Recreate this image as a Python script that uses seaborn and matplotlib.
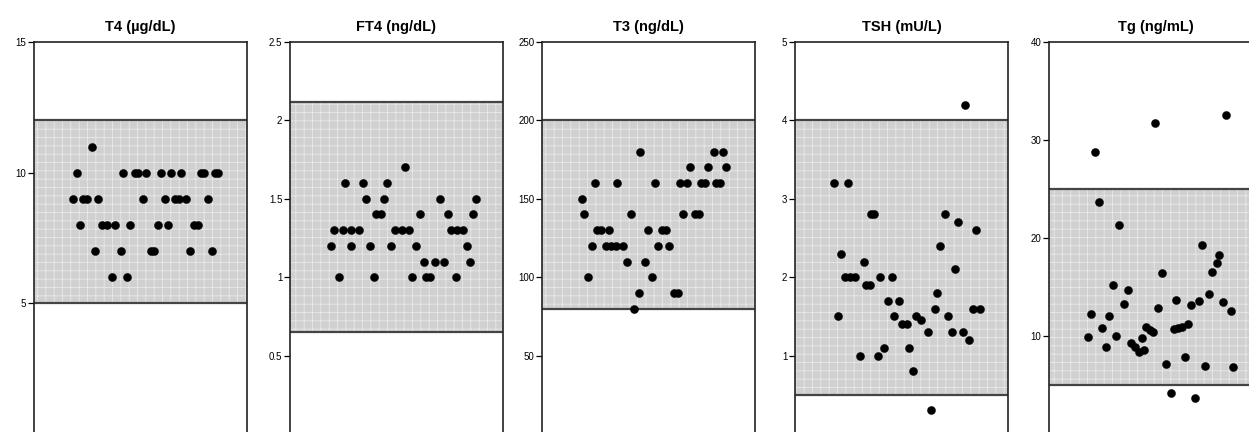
import matplotlib
matplotlib.use("Agg")
import matplotlib.pyplot as plt
import seaborn as sns
import pandas as pd

# ---------------- data (x = position across panel, 0-100) ----------------
panel_titles = ["T4 (µg/dL)", "FT4 (ng/dL)", "T3 (ng/dL)", "TSH (mU/L)", "Tg (ng/mL)"]

t4_x = [27.0,
        20.0, 41.6, 47.2, 48.6, 52.8, 59.8, 64.5, 69.2, 78.5, 79.9, 85.0, 86.4,
        18.2, 22.9, 24.8, 29.9, 51.4, 61.7, 66.4, 68.2, 71.5, 81.8,
        21.5, 31.8, 34.1, 37.9, 44.9, 58.4, 63.1, 75.2, 77.1,
        28.5, 40.7, 55.1, 56.5, 73.4, 83.6,
        36.4, 43.5]
t4_y = [11,
        10, 10, 10, 10, 10, 10, 10, 10, 10, 10, 10, 10,
        9, 9, 9, 9, 9, 9, 9, 9, 9, 9,
        8, 8, 8, 8, 8, 8, 8, 8, 8,
        7, 7, 7, 7, 7, 7,
        6, 6]

ft4_x = [54.2,
         25.9, 34.1, 45.6,
         35.7, 44.2, 70.4, 87.4,
         40.6, 42.5, 61.0, 74.2, 85.7,
         20.8, 24.7, 28.6, 32.5, 49.5, 52.7, 55.8, 75.8, 78.6, 81.0,
         19.2, 28.8, 37.4, 47.6, 59.3, 82.9,
         62.9, 67.9, 72.3, 84.6,
         22.8, 39.6, 57.4, 63.7, 65.7, 77.8]
ft4_y = [1.7,
         1.6, 1.6, 1.6,
         1.5, 1.5, 1.5, 1.5,
         1.4, 1.4, 1.4, 1.4, 1.4,
         1.3, 1.3, 1.3, 1.3, 1.3, 1.3, 1.3, 1.3, 1.3, 1.3,
         1.2, 1.2, 1.2, 1.2, 1.2, 1.2,
         1.1, 1.1, 1.1, 1.1,
         1.0, 1.0, 1.0, 1.0, 1.0, 1.0]

t3_x = [46.1, 80.6, 85.0,
        69.5, 77.9, 86.6,
        25.0, 35.1, 53.1, 64.8, 67.9, 74.6, 76.6, 81.8, 83.4,
        18.6,
        19.6, 41.7, 66.4, 71.6, 73.5,
        25.9, 27.5, 31.4, 49.6, 56.4, 58.0,
        23.5, 29.9, 32.2, 34.6, 37.9, 54.5, 59.7,
        40.0, 48.2,
        21.8, 51.8,
        45.4, 62.1, 63.7,
        43.4]
t3_y = [180, 180, 180,
        170, 170, 170,
        160, 160, 160, 160, 160, 160, 160, 160, 160,
        150,
        140, 140, 140, 140, 140,
        130, 130, 130, 130, 130, 130,
        120, 120, 120, 120, 120, 120, 120,
        110, 110,
        100, 100,
        90, 90, 90,
        80]

tsh_x = [79.7, 18.1, 24.8, 35.8, 36.9, 70.3, 76.7, 85.2, 68.1, 21.7, 32.2, 75.1,
         23.6, 25.9, 28.3, 40.1, 45.6, 33.5, 35.4, 66.8, 43.5, 48.7,
         65.6, 83.8, 86.7, 20.1, 46.7, 56.9, 72.0, 50.3, 52.7, 59.0,
         62.6, 73.6, 79.1, 81.8, 41.7, 53.5, 30.7, 39.0, 55.5, 63.7]
tsh_y = [4.2, 3.2, 3.2, 2.8, 2.8, 2.8, 2.7, 2.6, 2.4, 2.3, 2.2, 2.1,
         2.0, 2.0, 2.0, 2.0, 2.0, 1.9, 1.9, 1.8, 1.7, 1.7,
         1.6, 1.6, 1.6, 1.5, 1.5, 1.5, 1.5, 1.4, 1.4, 1.45,
         1.3, 1.3, 1.3, 1.2, 1.1, 1.1, 1.0, 1.0, 0.8, 0.3]

tg_x = [83.3, 49.8, 21.7, 23.3, 33.0, 71.8, 79.9, 79.1, 76.7, 53.2, 29.9, 36.9,
        75.1, 59.8, 70.4, 66.8, 81.8, 35.1, 51.4, 85.4, 19.7, 28.3, 24.7,
        45.6, 47.2, 48.7, 58.5, 60.5, 62.6, 65.2, 18.4, 31.4, 43.7,
        38.5, 40.6, 42.1, 44.8, 26.7, 63.7, 55.0, 73.1, 86.5, 57.1, 68.4]
tg_y = [32.6, 31.7, 28.8, 23.7, 21.3, 19.3, 18.3, 17.4, 16.5, 16.4, 15.2, 14.7,
        14.3, 13.7, 13.6, 13.2, 13.5, 13.3, 12.9, 12.6, 12.2, 12.0, 10.8,
        10.9, 10.6, 10.4, 10.7, 10.8, 10.95, 11.2, 9.9, 10.0, 9.8,
        9.3, 8.9, 8.4, 8.6, 8.9, 7.9, 7.1, 6.9, 6.8, 4.2, 3.7]

ref_low = [5, 0.65, 80, 0.5, 5]
ref_high = [12, 2.12, 200, 4, 25]
y_max = [15, 2.5, 250, 5, 40]
y_ticks = [[5, 10, 15], [0.5, 1, 1.5, 2, 2.5], [50, 100, 150, 200, 250],
           [1, 2, 3, 4, 5], [10, 20, 30, 40]]
y_ticklabels = [["5", "10", "15"], ["0.5", "1", "1.5", "2", "2.5"],
                ["50", "100", "150", "200", "250"], ["1", "2", "3", "4", "5"],
                ["10", "20", "30", "40"]]

series = [(t4_x, t4_y), (ft4_x, ft4_y), (t3_x, t3_y), (tsh_x, tsh_y), (tg_x, tg_y)]

# ---------------- figure ----------------
sns.set_style("white")
plt.rcParams["font.family"] = ["Liberation Sans", "DejaVu Sans"]
plt.rcParams["hatch.linewidth"] = 0.6
plt.rcParams["text.color"] = "black"
plt.rcParams["axes.titlecolor"] = "black"
plt.rcParams["ytick.color"] = "black"
plt.rcParams["ytick.labelcolor"] = "black"

W, H = 1249, 432
fig = plt.figure(figsize=(W / 100, H / 100), dpi=100)

lefts = [34, 290, 542, 795, 1049]
pw = 213
top_px = 42
bot_px = 434

for i, (xs, ys) in enumerate(series):
    ax = fig.add_axes([lefts[i] / W, 1 - bot_px / H, pw / W, (bot_px - top_px) / H])
    ax.axhspan(ref_low[i], ref_high[i], facecolor="#d0d0d0", edgecolor="#e9e9e9",
               hatch="++", linewidth=0, zorder=0)
    ax.axhline(ref_low[i], color="#444444", lw=1.6, zorder=1)
    ax.axhline(ref_high[i], color="#444444", lw=1.6, zorder=1)
    df = pd.DataFrame({"x": xs, "y": ys})
    sns.scatterplot(data=df, x="x", y="y", ax=ax, color="black", s=34,
                    marker="o", edgecolor="black", linewidth=0.3, zorder=3, legend=False)
    ax.set_xlim(0, 100)
    ax.set_ylim(0, y_max[i])
    ax.set_xticks([])
    ax.set_yticks(y_ticks[i])
    ax.set_yticklabels(y_ticklabels[i])
    ax.set_xlabel("")
    ax.set_ylabel("")
    ax.tick_params(axis="y", which="major", direction="out", length=4, width=0.9,
                   labelsize=7, pad=1.5, colors="black", left=True)
    for s in ["top", "left", "right", "bottom"]:
        ax.spines[s].set_visible(True)
        ax.spines[s].set_color("#222222")
        ax.spines[s].set_linewidth(1.2)
    ax.set_title(panel_titles[i], fontsize=10.5, fontweight="bold", pad=8, color="black")
    ax.set_facecolor("white")

fig.savefig("out.png", dpi=100)
